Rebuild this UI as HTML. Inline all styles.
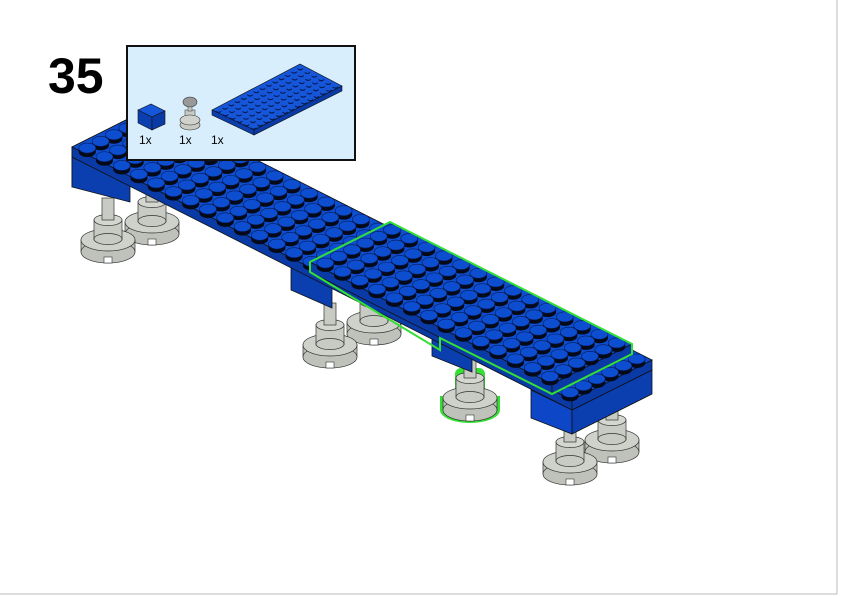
<!DOCTYPE html>
<html><head><meta charset="utf-8"><style>
html,body{margin:0;padding:0;background:#fff}
svg{display:block}
</style></head><body>
<svg id="s" width="842" height="596" viewBox="0 0 842 596" xmlns="http://www.w3.org/2000/svg" font-family="Liberation Sans, sans-serif">
<rect x="0" y="0" width="842" height="596" fill="#fff"/>
<line x1="837" y1="0" x2="837" y2="594" stroke="#bbb" stroke-width="1"/>
<line x1="0" y1="594" x2="837" y2="594" stroke="#bbb" stroke-width="1"/>
<g id="pegs"></g>
<g id="plate">
  <polygon points="72,147 152,107 152,147 72,187" fill="#0b3fb0" stroke="#111" stroke-width="0.8"/>
  <polygon points="72,157 130,186 130,202 72,187" fill="#0b3fb0" stroke="#111" stroke-width="0.8"/>
  <polygon points="291,266 332,287 332,308 291,290" fill="#0b3fb0" stroke="#111" stroke-width="0.8"/>
  <polygon points="432,336 472,356 472,372 432,356" fill="#0b3fb0" stroke="#111" stroke-width="0.8"/>
  <polygon points="531,390 572,410 572,434 531,418" fill="#0d47c8" stroke="#111" stroke-width="0.8"/>
  <polygon points="572,410 652,370 652,394 572,434" fill="#0b3fb0" stroke="#111" stroke-width="0.8"/>
  <polygon points="72,147 572,400 572,410 72,157" fill="#0a3aa6" stroke="#111" stroke-width="0.8"/>
  <polygon points="572,400 652,360 652,370 572,410" fill="#0a3aa6" stroke="#111" stroke-width="0.8"/>
  <polygon points="72,147 152,107 652,360 572,400" fill="#0d4ed0" stroke="#111" stroke-width="0.8"/>
</g>
<g id="studs"></g>
<g id="green">
  <polygon points="310,262 552,384 552,394 310,272" fill="#0a3aa6" stroke="#111" stroke-width="0.8"/>
  <polygon points="552,384 632,344 632,354 552,394" fill="#0a3aa6" stroke="#111" stroke-width="0.8"/>
  <polygon points="310,262 390,222 632,344 552,384" fill="#0d4ed0" stroke="#111" stroke-width="0.8"/>
</g>
<g id="studs2"></g>
<polygon points="310,272 310,262 390,222 632,344 632,354 552,394 440,338 440,350 310,272" fill="none" stroke="#35e035" stroke-width="2"/>
<text x="48" y="93" font-size="50" font-weight="bold" fill="#000">35</text>
<rect x="127" y="46" width="228" height="114" fill="#d8eefc" stroke="#111" stroke-width="2"/>
<g id="inset">
  <polygon points="138,110 151,104 165,111 152,117" fill="#1656d8" stroke="#111" stroke-width="0.6"/>
  <polygon points="138,110 152,117 152,130 138,123" fill="#0b3fb0" stroke="#111" stroke-width="0.6"/>
  <polygon points="152,117 165,111 165,124 152,130" fill="#0a3aa6" stroke="#111" stroke-width="0.6"/>
  <rect x="185" y="110" width="10" height="10" fill="#c8cbc4" stroke="#333" stroke-width="0.5"/>
  <ellipse cx="190" cy="125" rx="10" ry="5" fill="#c8cbc4" stroke="#333" stroke-width="0.6"/>
  <ellipse cx="190" cy="120" rx="10" ry="5" fill="#d0d2cc" stroke="#333" stroke-width="0.6"/>
  <rect x="188" y="100" width="4" height="11" fill="#c8cbc4" stroke="#333" stroke-width="0.5"/>
  <ellipse cx="190" cy="102" rx="7" ry="5" fill="#999" stroke="#333" stroke-width="0.6"/>
  <polygon points="212,110 300,64 342,86 254,130" fill="#1656d8" stroke="#111" stroke-width="0.6"/>
  <polygon points="212,110 254,130 254,135 212,115" fill="#0b3fb0" stroke="#111" stroke-width="0.6"/>
  <polygon points="254,130 342,86 342,91 254,135" fill="#0a3aa6" stroke="#111" stroke-width="0.6"/>
</g>
<text x="139" y="144" font-size="12" fill="#000">1x</text>
<text x="179" y="144" font-size="12" fill="#000">1x</text>
<text x="211" y="144" font-size="12" fill="#000">1x</text>
</svg>
<script>
var NS="http://www.w3.org/2000/svg";
function el(p,t,a){var e=document.createElementNS(NS,t);for(var k in a)e.setAttribute(k,a[k]);p.appendChild(e);return e;}
var pegs=document.getElementById('pegs');
function peg(x,y,green){
  var g=el(pegs,'g',{});
  if(green){
    el(g,'ellipse',{cx:x,cy:y+12,rx:30,ry:13,fill:'#35e035'});
    el(g,'rect',{x:x-30,y:y-2,width:60,height:14,fill:'#35e035'});
    el(g,'rect',{x:x-15,y:y-30,width:30,height:30,fill:'#35e035',rx:6});
  }
  el(g,'rect',{x:x-27,y:y,width:54,height:12,fill:'#bfc2ba',stroke:'#333','stroke-width':0.7});
  el(g,'ellipse',{cx:x,cy:y+12,rx:27,ry:11,fill:'#bfc2ba',stroke:'#333','stroke-width':0.7});
  el(g,'ellipse',{cx:x,cy:y,rx:27,ry:11,fill:'#cfd1cb',stroke:'#333','stroke-width':0.7});
  el(g,'rect',{x:x-4,y:y+17,width:8,height:6,fill:'#fff',stroke:'#333','stroke-width':0.6});
  el(g,'rect',{x:x-14,y:y-20,width:28,height:20,fill:'#c8cbc4',stroke:'#333','stroke-width':0.7});
  el(g,'ellipse',{cx:x,cy:y-1,rx:14,ry:5.5,fill:'#c8cbc4',stroke:'#333','stroke-width':0.7});
  el(g,'ellipse',{cx:x,cy:y-20,rx:14,ry:5.5,fill:'#d4d6d0',stroke:'#333','stroke-width':0.7});
  el(g,'rect',{x:x-6,y:y-42,width:12,height:22,fill:'#c8cbc4',stroke:'#333','stroke-width':0.7});
}
[[152,222],[612,440],[374,322],[108,240],[330,345],[570,462],[470,398,1]].forEach(function(p){peg(p[0],p[1],p[2]);});
function grid(id,FL,BL,BR,FR,N,W,skip){
  var st=document.getElementById(id);
  function bl(a,b){var f=[FL[0]+(FR[0]-FL[0])*a,FL[1]+(FR[1]-FL[1])*a],k=[BL[0]+(BR[0]-BL[0])*a,BL[1]+(BR[1]-BL[1])*a];return [f[0]+(k[0]-f[0])*b,f[1]+(k[1]-f[1])*b];}
  for(var j=W-1;j>=0;j--){for(var i=0;i<N;i++){
    if(skip&&skip(i,j))continue;
    var p=bl((i+0.5)/N,(j+0.5)/W);
    el(st,'ellipse',{cx:p[0],cy:p[1]+4,rx:8.5,ry:5,fill:'#050a1a'});
    el(st,'rect',{x:p[0]-8.5,y:p[1],width:17,height:4,fill:'#050a1a'});
    el(st,'ellipse',{cx:p[0],cy:p[1],rx:8.5,ry:5,fill:'#0d4ed0',stroke:'#061a55','stroke-width':0.6});
  }}
}
grid('studs',[72,147],[152,107],[652,360],[572,400],29,6,function(i,j){return i>=14&&i<28;});
grid('studs2',[310,262],[390,222],[632,344],[552,384],14,6);
var ins=document.getElementById('inset');
var fx=[212,110],fr=[254,130],bk=[300,64],br=[342,86];
for(var j=5;j>=0;j--)for(var i=0;i<14;i++){
  var a=(i+0.5)/14,b=(j+0.5)/6;
  var lf=[fr[0]+(fx[0]-fr[0])*b,fr[1]+(fx[1]-fr[1])*b];
  var rt=[br[0]+(bk[0]-br[0])*b,br[1]+(bk[1]-br[1])*b];
  var x=lf[0]+(rt[0]-lf[0])*a,y=lf[1]+(rt[1]-lf[1])*a;
  el(ins,'ellipse',{cx:x,cy:y+1.2,rx:2.8,ry:1.7,fill:'#061a55'});
  el(ins,'ellipse',{cx:x,cy:y,rx:2.8,ry:1.7,fill:'#1656d8'});
}
</script>
</body></html>
